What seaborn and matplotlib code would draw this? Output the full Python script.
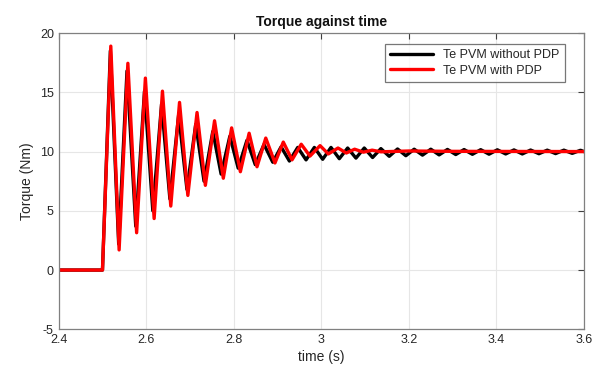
import numpy as np
import pandas as pd
import matplotlib
matplotlib.use("Agg")
import matplotlib.pyplot as plt
import seaborn as sns
from matplotlib.ticker import FuncFormatter

# key points: start, step, then successive peaks / troughs
t_without = [2.40, 2.500, 2.518, 2.537, 2.556, 2.576, 2.596, 2.615, 2.635, 2.654,
             2.674, 2.693, 2.713, 2.732, 2.752, 2.771, 2.791, 2.810, 2.830, 2.849,
             2.869, 2.889, 2.908, 2.927, 2.946, 2.965, 2.984, 3.003, 3.022, 3.041,
             3.060, 3.079, 3.098, 3.117, 3.136, 3.155, 3.174, 3.193, 3.212, 3.231,
             3.250, 3.269, 3.288, 3.307, 3.326, 3.345, 3.364, 3.383, 3.402, 3.421,
             3.440, 3.459, 3.478, 3.497, 3.516, 3.535, 3.554, 3.573, 3.592, 3.600]
te_without = [0.0, 0.0, 18.5, 2.2, 16.8, 3.7, 15.1, 5.0, 14.0, 6.0,
              13.1, 6.8, 12.3, 7.5, 11.7, 8.1, 11.3, 8.6, 10.95, 8.9,
              10.6, 9.1, 10.4, 9.2, 10.35, 9.3, 10.35, 9.35, 10.35, 9.4,
              10.3, 9.45, 10.3, 9.5, 10.25, 9.6, 10.22, 9.65, 10.2, 9.7,
              10.2, 9.72, 10.18, 9.75, 10.17, 9.77, 10.16, 9.78, 10.15, 9.8,
              10.14, 9.8, 10.13, 9.82, 10.12, 9.83, 10.12, 9.85, 10.11, 10.0]

t_with = [2.40, 2.500, 2.519, 2.538, 2.558, 2.578, 2.598, 2.618, 2.637, 2.656,
          2.676, 2.695, 2.716, 2.735, 2.756, 2.776, 2.795, 2.815, 2.835, 2.853,
          2.873, 2.894, 2.913, 2.933, 2.954, 2.974, 2.997, 3.016, 3.038, 3.057,
          3.076, 3.096, 3.116, 3.136, 3.20, 3.30, 3.60]
te_with = [0.0, 0.0, 18.9, 1.7, 17.45, 3.15, 16.2, 4.35, 15.1, 5.4,
           14.15, 6.3, 13.3, 7.15, 12.6, 7.75, 12.0, 8.3, 11.55, 8.72,
           11.14, 9.04, 10.8, 9.3, 10.62, 9.62, 10.5, 9.8, 10.3, 9.88,
           10.2, 9.95, 10.12, 9.98, 10.05, 10.02, 10.0]

df = pd.concat([
    pd.DataFrame({"time": t_without, "Te": te_without, "series": "Te PVM without PDP"}),
    pd.DataFrame({"time": t_with, "Te": te_with, "series": "Te PVM with PDP"}),
])

sns.set_style("white")
plt.rcParams["font.family"] = ["Liberation Sans", "DejaVu Sans"]

fig = plt.figure(figsize=(5.99, 3.69), dpi=100)
ax = fig.add_axes([0.098, 0.1076, 0.877, 0.8027])

sns.lineplot(data=df, x="time", y="Te", hue="series", sort=False, estimator=None,
             palette={"Te PVM without PDP": "#000000", "Te PVM with PDP": "#ff0000"},
             linewidth=2.4, ax=ax)
for ln in ax.get_lines():
    ln.set_solid_joinstyle("round")
    ln.set_solid_capstyle("round")

ax.set_xlim(2.4, 3.6)
ax.set_ylim(-5, 20)
ax.set_xticks([2.4, 2.6, 2.8, 3.0, 3.2, 3.4, 3.6])
ax.set_yticks([-5, 0, 5, 10, 15, 20])
ax.xaxis.set_major_formatter(FuncFormatter(lambda v, p: "%g" % round(v, 2)))
ax.yaxis.set_major_formatter(FuncFormatter(lambda v, p: "%g" % v))
ax.grid(True, color="#e6e6e6", linewidth=0.8)
ax.tick_params(direction="in", length=4, color="#404040", labelcolor="#262626",
               labelsize=9, top=True, right=True)
for s in ax.spines.values():
    s.set_color("#808080")
    s.set_linewidth(0.9)

ax.set_title("Torque against time", fontsize=10, fontweight="bold", color="#111111", pad=5)
ax.set_xlabel("time (s)", fontsize=10, color="#262626", labelpad=3)
ax.set_ylabel("Torque (Nm)", fontsize=10, color="#262626", labelpad=4)

leg = ax.legend(loc="upper right", fontsize=9, frameon=True, fancybox=False,
                handlelength=3.4, borderpad=0.45, labelspacing=0.25,
                bbox_to_anchor=(0.975, 0.985))
leg.get_frame().set_edgecolor("#555555")
leg.get_frame().set_linewidth(0.9)

fig.savefig("out.png", dpi=100)
